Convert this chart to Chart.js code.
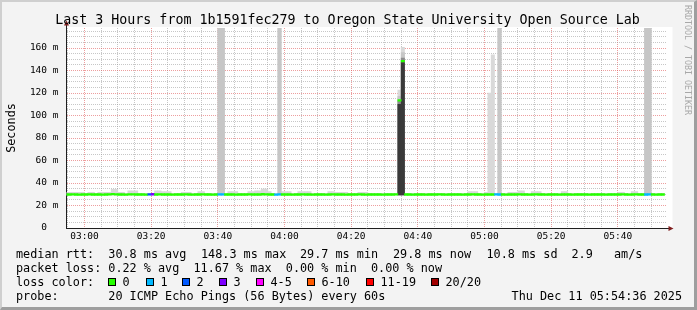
<!DOCTYPE html>
<html lang="en">
<head>
  <meta charset="UTF-8" />
  <title>Last 3 Hours from 1b1591fec279 to Oregon State University Open Source Lab</title>
  <script src="https://cdn.jsdelivr.net/npm/chart.js@4.4.1/dist/chart.umd.min.js"></script>
  <style>
    html, body { margin: 0; padding: 0; background: #f3f3f3; }
    #frame {
      position: absolute; left: 0; top: 0; width: 697px; height: 310px;
      box-sizing: border-box; background: #f3f3f3;
      border-style: solid; border-width: 2px 3px 3px 2px;
      border-color: #cfcfcf #9e9e9e #9e9e9e #cfcfcf;
    }
    #smoke { position: absolute; left: 0; top: 0; }
  </style>
</head>
<body>
  <div id="frame"></div>
  <canvas id="smoke" width="697" height="310"></canvas>

  <script>
    // one sample per minute, 02:55 .. 05:54 (each covers the minute before it)
    const firstSample = '02:55';
    const windowStart = '02:54:36';
    const windowEnd = '05:54:36';

    // median rtt per sample, ms
    const medianRtt = [
      29.8,29.8,29.9,29.8,29.7,29.8,29.8,29.9,29.8,29.8,29.8,29.7,29.8,29.9,30.1,29.9,29.8,29.8,29.7,29.9,
      29.9,29.8,29.8,29.8,29.7,29.9,30.0,29.8,29.9,29.8,29.8,29.8,29.7,29.8,29.8,29.8,29.9,29.8,29.7,29.8,
      29.8,29.9,29.8,29.8,29.7,29.8,29.9,29.9,29.8,29.8,29.8,29.7,29.8,29.8,29.8,29.9,29.8,29.8,29.8,30.0,
      29.9,29.8,29.8,29.7,29.9,29.8,29.8,29.8,29.7,29.8,29.8,29.9,29.8,29.8,29.7,29.8,29.8,29.8,29.7,29.8,
      29.9,29.8,29.8,29.8,29.7,29.8,29.8,29.8,29.9,29.8,29.7,29.8,29.8,29.8,29.8,29.7,29.8,29.8,29.8,29.9,
      113.5,148.3,29.8,29.8,29.7,29.8,29.8,29.8,29.7,29.8,29.8,29.8,29.9,29.8,29.7,29.8,29.8,29.8,29.8,29.7,
      29.8,29.8,29.9,29.8,29.8,29.7,29.8,29.8,29.8,29.9,29.8,29.8,29.7,29.8,29.8,29.8,29.9,29.8,29.8,29.7,
      29.8,29.9,29.8,29.8,29.7,29.8,29.8,29.8,29.7,29.8,29.8,29.8,29.7,29.8,29.8,29.8,29.8,29.7,29.8,29.8,
      29.8,29.8,29.7,29.8,29.8,29.8,29.8,29.9,29.8,29.7,29.8,29.9,29.8,29.8,29.8,29.9,29.8,29.7,29.8,29.8
    ];

    // highest ping per sample, ms (top of the light smoke)
    const maxRtt = [
      31.8,31.8,31.8,31.8,31.8,31.8,30.8,31.6,31.6,30.8,31.6,31.6,31.6,31.6,34.4,34.4,31.6,31.6,30.8,33,
      33,33,30.8,30.8,30.8,30.8,30.8,33,33,32.4,32.4,32.4,30.8,30.8,30.8,31.6,31.6,31.6,30.8,30.8,
      32.4,32.4,30.8,30.8,30.8,30.8,400,400,30.8,32.4,32.4,32.4,30.8,30.8,30.8,32.4,32.4,33,33,34.6,
      34.6,32.4,30.8,30.8,400,32.4,32.4,32.4,30.8,30.8,32.4,32.4,32.4,32.4,30.8,30.8,30.8,30.8,30.8,32.4,
      32.4,31.6,31.6,31.6,31.6,30.8,30.8,30.8,31.6,31.6,31.6,30.8,30.8,30.8,30.8,30.8,30.8,30.8,30.8,30.8,
      122.7,160.6,30.8,30.8,30.8,30.8,30.8,30.8,30.8,30.8,30.8,30.8,30.8,30.8,30.8,30.8,30.8,30.8,30.8,30.8,
      30.8,32.4,32.4,32.4,30.8,30.8,31.6,120,154,30.8,400,30.8,30.8,31.6,31.6,31.6,33,33,30.8,30.8,
      32.4,32.4,32.4,30.8,30.8,30.8,30.8,30.8,30.8,32.4,32.4,30.8,30.8,30.8,30.8,30.8,30.8,30.8,30.8,30.8,
      30.8,30.8,30.8,30.8,30.8,30.8,31.6,31.6,30.8,30.8,32.4,32.4,30.8,30.8,400,400,30.8,30.8,30.8,30.8
    ];

    // lost pings (of 20) per sample
    const lostPings = [
      0,0,0,0,0,0,0,0,0,0,0,0,0,0,0,0,0,0,0,0,
      0,0,0,0,0,2,3,0,0,0,0,0,0,0,0,0,0,0,0,0,
      0,0,0,0,0,0,1,1,0,0,0,0,0,0,0,0,0,0,0,0,
      0,0,0,1,1,0,0,0,0,0,0,0,0,0,0,0,0,0,0,0,
      0,0,0,0,0,0,0,0,0,0,0,0,0,0,0,0,0,0,0,0,
      0,0,0,0,0,0,0,0,0,0,0,0,0,0,0,0,0,0,0,0,
      0,0,0,0,0,0,0,0,0,1,1,0,0,0,0,0,0,0,0,0,
      0,0,0,0,0,0,0,0,0,0,0,0,0,0,0,0,0,0,0,0,
      0,0,0,0,0,0,0,0,0,0,0,0,0,0,1,1,0,0,0,0
    ];

    // denser smoke bands where several pings were slow: [sample, from ms, to ms]
    const upperSmoke = [
      ['03:41', 29.5, 400], ['03:42', 29.5, 400], ['03:59', 29.5, 400],
      ['04:35', 29.5, 117], ['04:36', 29.5, 156], ['05:05', 29.5, 400],
      ['05:49', 29.5, 400], ['05:50', 29.5, 400]
    ];
    const innerSmoke = [['04:35', 29.5, 113], ['04:36', 29.5, 151]];
    const coreSmoke = [['04:35', 29.5, 110], ['04:36', 29.5, 147]];
    const smokeFloor = 29.5;

    const xTickLabels = ['03:00', '03:20', '03:40', '04:00', '04:20', '04:40', '05:00', '05:20', '05:40'];
    const yTickValues = [0, 20, 40, 60, 80, 100, 120, 140, 160];
    const yTickLabels = ['0  ', '20 m', '40 m', '60 m', '80 m', '100 m', '120 m', '140 m', '160 m'];
    const yMax = 177.78;

    const lossLabels = ['0', '1', '2', '3', '4-5', '6-10', '11-19', '20/20'];
    const lossFrom = [0, 1, 2, 3, 4, 6, 11, 20];
    const lossColors = ['#26ff00', '#00b8ff', '#0059ff', '#7e00ff', '#ff00ff', '#ff5a00', '#ff0000', '#a10000'];

    const titleText = 'Last 3 Hours from 1b1591fec279 to Oregon State University Open Source Lab';
    const yTitle = 'Seconds';
    const watermark = 'RRDTOOL / TOBI OETIKER';
    const rttStats = ['30.8 ms avg', '148.3 ms max', '29.7 ms min', '29.8 ms now', '10.8 ms sd', '2.9', 'am/s'];
    const lossStats = ['0.22 % avg', '11.67 % max', '0.00 % min', '0.00 % now'];
    const probeText = '20 ICMP Echo Pings (56 Bytes) every 60s';
    const stamp = 'Thu Dec 11 05:54:36 2025';

    function toMin(t) {
      const p = t.split(':').map(Number);
      return p[0] * 60 + p[1] + (p[2] || 0) / 60;
    }
    const t0 = toMin(firstSample);
    const slot = t => Math.round(toMin(t) - t0);
    const centre = i => t0 + i - 0.5;   // bar sits on the minute it covers

    function lossColor(n) {
      let k = 0;
      lossFrom.forEach((f, j) => { if (n >= f) k = j; });
      return lossColors[k];
    }

    const band = 0.75; // half height of the median mark, ms
    const common = { barPercentage: 1, categoryPercentage: 1, grouped: false, borderWidth: 0, clip: 0 };
    const smokeSet = (rows, color) => Object.assign({
      data: rows.map(([t, lo, hi]) => ({ x: centre(slot(t)), y: [lo, hi] })),
      backgroundColor: color
    }, common);

    const xMajor = new Map(xTickLabels.map(l => [toMin(l), l]));
    const xGrid = [];
    for (let m = 175; m <= 350; m += 5) xGrid.push(m);
    const yGrid = [];
    for (let v = 0; v <= 175; v += 5) yGrid.push(v);

    const majorGrid = 'rgba(222,79,79,0.55)';
    const minorGrid = 'rgba(143,143,143,0.5)';
    const tickFont = { family: '"DejaVu Sans Mono", monospace', size: 9.5 };
    const mono = size => size + 'px "DejaVu Sans Mono", monospace';

    const rrdDecor = {
      id: 'rrdDecor',
      beforeDraw(chart) {
        const { ctx, chartArea: a } = chart;
        ctx.save();
        ctx.fillStyle = '#ffffff';
        ctx.fillRect(a.left, a.top - 1, a.right - a.left + 6, a.bottom - a.top + 1);
        ctx.restore();
      },
      afterDraw(chart) {
        const { ctx, chartArea: a } = chart;
        const ax = Math.floor(a.left) + 0.5;
        const ay = Math.floor(a.bottom) + 0.5;
        ctx.save();

        // axis ends with arrows
        ctx.strokeStyle = '#1f1f1f';
        ctx.lineWidth = 1;
        ctx.beginPath();
        ctx.moveTo(ax, a.top); ctx.lineTo(ax, a.top - 4);
        ctx.moveTo(a.right, ay); ctx.lineTo(a.right + 3, ay);
        ctx.stroke();
        ctx.fillStyle = '#801f1f';
        ctx.beginPath();
        ctx.moveTo(ax - 2.5, a.top - 2.5); ctx.lineTo(ax + 2.5, a.top - 2.5); ctx.lineTo(ax, a.top - 7.5);
        ctx.closePath(); ctx.fill();
        ctx.beginPath();
        ctx.moveTo(a.right + 2, ay - 2.5); ctx.lineTo(a.right + 2, ay + 2.5); ctx.lineTo(a.right + 7, ay);
        ctx.closePath(); ctx.fill();

        // title
        ctx.fillStyle = '#000';
        ctx.textBaseline = 'alphabetic';
        ctx.font = mono(13.3);
        ctx.textAlign = 'center';
        ctx.fillText(titleText, 347.5, 24);

        // vertical axis title
        ctx.font = mono(11.8);
        ctx.save();
        ctx.translate(15, 128);
        ctx.rotate(-Math.PI / 2);
        ctx.fillText(yTitle, 0, 0);
        ctx.restore();

        // watermark
        ctx.save();
        ctx.fillStyle = '#a8a8a8';
        ctx.font = mono(8.3);
        ctx.translate(685, 60);
        ctx.rotate(Math.PI / 2);
        ctx.fillText(watermark, 0, 0);
        ctx.restore();

        // legend
        ctx.textAlign = 'left';
        ctx.font = mono(11.8);
        const rttX = [108.3, 201, 300, 393, 486.5, 571.5, 614];
        const lossX = [108.3, 193.5, 285.8, 371];
        ctx.fillText('median rtt:', 16, 258);
        rttStats.forEach((s, i) => ctx.fillText(s, rttX[i], 258));
        ctx.fillText('packet loss:', 16, 272);
        lossStats.forEach((s, i) => ctx.fillText(s, lossX[i], 272));
        ctx.fillText('loss color:', 16, 286);
        const boxX = [108, 146, 182, 219, 256, 307, 366, 431];
        lossLabels.forEach((l, i) => {
          ctx.fillStyle = lossColors[i];
          ctx.fillRect(boxX[i] + 0.5, 278.5, 7, 7);
          ctx.strokeStyle = '#000';
          ctx.strokeRect(boxX[i] + 0.5, 278.5, 7, 7);
          ctx.fillStyle = '#000';
          ctx.fillText(l, boxX[i] + 14.5, 286);
        });
        ctx.fillText('probe:', 16, 300);
        ctx.fillText(probeText, 108.3, 300);
        ctx.textAlign = 'right';
        ctx.fillText(stamp, 682, 300);
        ctx.restore();
      }
    };

    new Chart(document.getElementById('smoke'), {
      type: 'bar',
      data: {
        datasets: [
          Object.assign({
            label: 'median rtt',
            data: medianRtt.map((v, i) => ({ x: centre(i), y: [v - band, v + band], loss: lostPings[i] })),
            backgroundColor: c => (c.raw ? lossColor(c.raw.loss) : lossColors[0])
          }, common),
          smokeSet(coreSmoke, '#3a3a3a'),
          smokeSet(innerSmoke, '#8c8c8c'),
          smokeSet(upperSmoke, '#c6c6c6'),
          Object.assign({
            data: maxRtt.map((v, i) => ({ x: centre(i), y: [smokeFloor, v] })),
            backgroundColor: '#d9d9d9'
          }, common)
        ]
      },
      options: {
        responsive: false,
        devicePixelRatio: 1,
        animation: false,
        events: [],
        layout: { padding: { top: 28, right: 30.5, bottom: 62, left: 0 } },
        plugins: { legend: { display: false }, tooltip: { enabled: false } },
        scales: {
          x: {
            type: 'linear',
            min: toMin(windowStart),
            max: toMin(windowEnd),
            bounds: 'data',
            offset: false,
            afterFit: s => { s.height = 20; },
            afterBuildTicks: s => { s.ticks = xGrid.map(v => ({ value: v })); },
            ticks: {
              autoSkip: false, maxRotation: 0, minRotation: 0, padding: 3,
              color: '#000', font: tickFont,
              callback: v => xMajor.get(v) || ''
            },
            grid: {
              offset: false, drawTicks: false,
              color: c => (c.tick && xMajor.has(c.tick.value) ? majorGrid : minorGrid)
            },
            border: { color: '#1f1f1f', dash: [1, 1] }
          },
          y: {
            min: 0,
            max: yMax,
            bounds: 'data',
            afterFit: s => { s.width = 66.5; },
            afterBuildTicks: s => { s.ticks = yGrid.map(v => ({ value: v })); },
            ticks: {
              autoSkip: false, padding: 8, color: '#000', font: tickFont,
              callback: v => {
                const k = yTickValues.indexOf(v);
                return k === -1 ? '' : yTickLabels[k];
              }
            },
            grid: {
              drawTicks: false,
              color: c => (c.tick && yTickValues.includes(c.tick.value) ? majorGrid : minorGrid)
            },
            border: { color: '#1f1f1f', dash: [1, 1] }
          }
        }
      },
      plugins: [rrdDecor]
    });
  </script>
</body>
</html>
